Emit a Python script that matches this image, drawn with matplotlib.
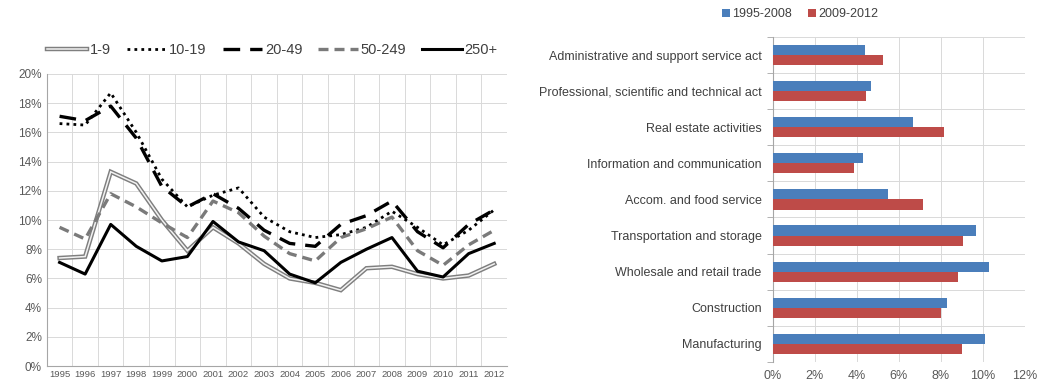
import matplotlib
matplotlib.use("Agg")
import matplotlib.pyplot as plt
from matplotlib.legend_handler import HandlerTuple
from matplotlib.ticker import FuncFormatter, MultipleLocator
import numpy as np

plt.rcParams["font.family"] = ["Liberation Sans", "DejaVu Sans"]

# --- dados: painel esquerdo (séries por classe de tamanho) ---
anos = list(range(1995, 2013))
s_1_9 = [7.4, 7.5, 13.3, 12.5, 10.0, 7.9, 9.5, 8.4, 7.0, 6.0, 5.7, 5.2, 6.7, 6.8, 6.3, 6.0, 6.2, 7.0]
s_10_19 = [16.6, 16.5, 18.7, 16.0, 12.8, 10.9, 11.7, 12.2, 10.2, 9.2, 8.8, 9.0, 9.5, 10.6, 9.5, 8.3, 9.3, 10.7]
s_20_49 = [17.1, 16.8, 17.8, 15.6, 12.3, 10.9, 11.8, 10.8, 9.3, 8.4, 8.2, 9.7, 10.3, 11.3, 9.2, 8.1, 9.7, 10.7]
s_50_249 = [9.5, 8.7, 11.8, 10.9, 9.8, 8.8, 11.3, 10.5, 8.9, 7.7, 7.2, 8.8, 9.4, 10.2, 7.9, 6.9, 8.3, 9.3]
s_250 = [7.1, 6.3, 9.7, 8.2, 7.2, 7.5, 9.9, 8.5, 7.9, 6.3, 5.7, 7.1, 8.0, 8.8, 6.5, 6.1, 7.7, 8.4]

# --- dados: painel direito (setores) ---
setores = ["Manufacturing", "Construction", "Wholesale and retail trade",
           "Transportation and storage", "Accom. and food service",
           "Information and communication", "Real estate activities",
           "Professional, scientific and technical act",
           "Administrative and support service act"]
p_1995_2008 = [10.1, 8.3, 10.3, 9.7, 5.5, 4.3, 6.7, 4.7, 4.4]
p_2009_2012 = [9.0, 8.0, 8.8, 9.05, 7.15, 3.85, 8.15, 4.45, 5.25]

CINZA_TXT = "#595959"
CINZA_GRADE = "#d9d9d9"
pct = FuncFormatter(lambda v, _: f"{v:.0f}%")

fig = plt.figure(figsize=(10.4, 3.85), dpi=100)

# ---------------- painel esquerdo ----------------
ax1 = fig.add_axes([0.045, 0.049, 0.4425, 0.759])
x = np.arange(len(anos))

# linha dupla (contorno cinza + miolo claro)
a1, = ax1.plot(x, s_1_9, color="#7f7f7f", lw=3.2, solid_joinstyle="miter")
a2, = ax1.plot(x, s_1_9, color="#f2f2f2", lw=1.1, solid_joinstyle="miter")
b, = ax1.plot(x, s_10_19, color="black", lw=2.0, linestyle=(0, (1, 1.5)))
c, = ax1.plot(x, s_20_49, color="black", lw=2.4, linestyle=(0, (5, 3)))
d, = ax1.plot(x, s_50_249, color="#7a7a7a", lw=2.4, linestyle=(0, (3, 1.8)))
e, = ax1.plot(x, s_250, color="black", lw=2.2)

ax1.set_xlim(-0.5, len(anos) - 0.5)
ax1.set_ylim(0, 20)
ax1.set_xticks(x)
ax1.set_xticklabels([str(a) for a in anos], fontsize=6.8, color=CINZA_TXT)
ax1.set_xticks(np.arange(-0.5, len(anos), 1), minor=True)
ax1.yaxis.set_major_locator(MultipleLocator(2))
ax1.yaxis.set_major_formatter(pct)
ax1.tick_params(axis="y", labelsize=8.5, colors=CINZA_TXT, length=0)
ax1.tick_params(axis="x", which="both", length=0, pad=3)
ax1.grid(True, axis="y", color=CINZA_GRADE, lw=0.7)
ax1.grid(True, axis="x", which="minor", color=CINZA_GRADE, lw=0.7)
for lado in ["top", "right"]:
    ax1.spines[lado].set_visible(False)
for lado in ["left", "bottom"]:
    ax1.spines[lado].set_color("#a6a6a6")
    ax1.spines[lado].set_linewidth(0.8)

fig.legend([(a1, a2), b, c, d, e], ["1-9", "10-19", "20-49", "50-249", "250+"],
           handler_map={tuple: HandlerTuple(ndivide=1)},
           loc="center", bbox_to_anchor=(0.262, 1 - 50 / 385), ncol=5,
           frameon=False, fontsize=10.5, handlelength=2.7, handletextpad=0.2,
           columnspacing=1.1, labelcolor="#404040")

# ---------------- painel direito ----------------
ax2 = fig.add_axes([0.743, 0.06, 0.2423, 0.844])
y = np.arange(len(setores))
h = 0.28
ax2.barh(y + h / 2, p_1995_2008, height=h, color="#4a7ebb", label="1995-2008", zorder=3)
ax2.barh(y - h / 2, p_2009_2012, height=h, color="#be4b48", label="2009-2012", zorder=3)

ax2.set_xlim(0, 12)
ax2.set_ylim(-0.5, len(setores) - 0.5)
ax2.xaxis.set_major_locator(MultipleLocator(2))
ax2.xaxis.set_major_formatter(pct)
ax2.set_yticks(y)
ax2.set_yticklabels(setores, fontsize=9, color="#404040")
ax2.set_yticks(np.arange(-0.5, len(setores), 1), minor=True)
ax2.tick_params(axis="y", which="major", length=0, pad=8)
ax2.tick_params(axis="y", which="minor", length=4, color="#a6a6a6")
ax2.tick_params(axis="x", labelsize=9, colors=CINZA_TXT, length=0, pad=6)
ax2.grid(True, axis="x", color=CINZA_GRADE, lw=0.7, zorder=0)
ax2.grid(True, axis="y", which="minor", color=CINZA_GRADE, lw=0.7, zorder=0)
for lado in ["top", "right", "bottom"]:
    ax2.spines[lado].set_visible(False)
ax2.spines["left"].set_color("#a6a6a6")
ax2.spines["left"].set_linewidth(0.8)

fig.legend(loc="center", bbox_to_anchor=(800 / 1040, 1 - 14 / 385), ncol=2,
           frameon=False, fontsize=9, handlelength=0.6, handleheight=0.6,
           handletextpad=0.2, columnspacing=1.3, labelcolor="#404040")

fig.savefig("out.png", dpi=100)
plt.close(fig)
